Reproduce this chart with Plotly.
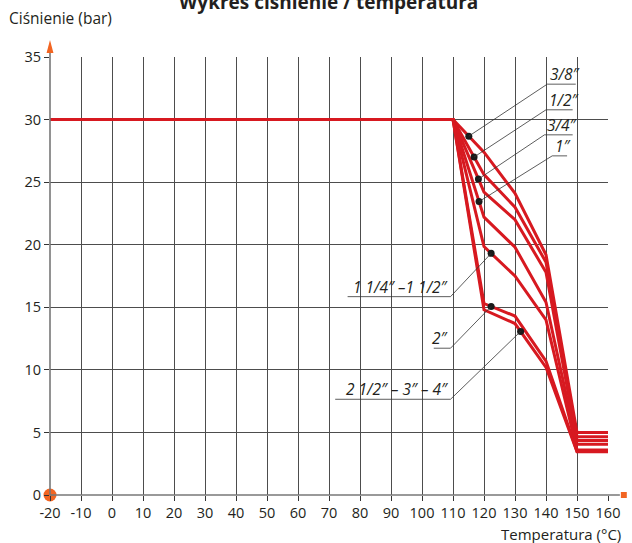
import plotly.graph_objects as go
import numpy as np

# ---------------- data ----------------
temps = [-20, 110, 120, 130, 140, 150, 160]

p_3_8 = [30, 30, 27.4, 24.1, 19.2, 5.0, 5.0]
p_1_2 = [30, 30, 25.6, 23.0, 18.6, 4.65, 4.65]
p_3_4 = [30, 30, 24.2, 22.0, 17.8, 4.35, 4.35]
p_1 = [30, 30, 22.2, 19.8, 15.4, 4.05, 4.05]
p_1_14_1_12 = [30, 30, 19.85, 17.5, 14.0, 3.6, 3.6]
p_2 = [30, 30, 15.3, 14.3, 10.7, 3.5, 3.5]
p_212_3_4 = [30, 30, 14.8, 13.7, 10.2, 3.45, 3.45]

size_labels = ["3/8″", "1/2″", "3/4″", "1″", "1 1/4″ –1 1/2″", "2″", "2 1/2″ – 3″ – 4″"]
dot_temps = [115.1, 116.8, 118.2, 118.4, 122.3, 122.3, 131.8]

x_tick_vals = [-20, -10, 0, 10, 20, 30, 40, 50, 60, 70, 80, 90, 100, 110, 120, 130, 140, 150, 160]
x_tick_labels = ["-20", "-10", "0", "10", "20", "30", "40", "50", "60", "70", "80", "90",
                 "100", "110", "120", "130", "140", "150", "160"]
y_tick_vals = [0, 5, 10, 15, 20, 25, 30, 35]
y_tick_labels = ["0", "5", "10", "15", "20", "25", "30", "35"]

title_text = "Wykres ciśnienie / temperatura"
y_title = "Ciśnienie (bar)"
x_title = "Temperatura (°C)"

series = [p_3_8, p_1_2, p_3_4, p_1, p_1_14_1_12, p_2, p_212_3_4]

# ---------------- layout constants ----------------
W, H = 632, 543
ML, MR, MT, MB = 50, 18, 57, 48
PW, PH = W - ML - MR, H - MT - MB
FONT = "Open Sans"
RED = "#d71920"
ORANGE = "#f26522"
INK = "#231f20"
GRID = "#4d4d4d"

# label placement: underline x0, x1, y (data units), side where leader attaches
label_layout = [
    (140.4, 149.6, 32.83, "left"),
    (140.0, 148.6, 30.78, "left"),
    (139.5, 148.6, 28.78, "left"),
    (142.0, 146.8, 27.1, "left"),
    (76.0, 109.2, 15.85, "right"),
    (103.8, 109.2, 11.73, "right"),
    (72.0, 109.2, 7.65, "right"),
]

fig = go.Figure()

for vals, name in zip(series, size_labels):
    fig.add_trace(go.Scatter(x=temps, y=vals, mode="lines", name=name,
                             line=dict(color=RED, width=3), showlegend=False,
                             hoverinfo="skip"))

shapes = []
annotations = []
dot_x, dot_y = [], []
for vals, name, t, lay in zip(series, size_labels, dot_temps, label_layout):
    p = float(np.interp(t, temps, vals))
    dot_x.append(t)
    dot_y.append(p)
    x0, x1, yl, side = lay
    attach = x0 if side == "left" else x1
    shapes.append(dict(type="line", xref="x", yref="y", x0=t, y0=p, x1=attach, y1=yl,
                       line=dict(color="#333333", width=0.8)))
    shapes.append(dict(type="line", xref="x", yref="y", x0=x0, y0=yl, x1=x1, y1=yl,
                       line=dict(color="#333333", width=0.8)))
    annotations.append(dict(x=(x0 + 0.3) if side == "left" else x1 + 0.2, y=yl,
                            xref="x", yref="y",
                            xanchor="left" if side == "left" else "right",
                            yanchor="bottom", yshift=-3,
                            text="<i>" + name + "</i>", showarrow=False,
                            font=dict(family=FONT, size=15.5, color=INK)))

fig.add_trace(go.Scatter(x=dot_x, y=dot_y, mode="markers",
                         marker=dict(color="#1a1a1a", size=7), showlegend=False,
                         hoverinfo="skip"))

# origin dot
fig.add_trace(go.Scatter(x=[x_tick_vals[0]], y=[y_tick_vals[0]], mode="markers",
                         marker=dict(color=ORANGE, size=13), cliponaxis=False,
                         showlegend=False, hoverinfo="skip"))

def px_x(px):
    return (px - ML) / PW

def px_y(py):
    return (H - MB - py) / PH

# y axis line with arrow
shapes.append(dict(type="line", xref="paper", yref="paper", x0=0, x1=0,
                   y0=0, y1=px_y(50), line=dict(color="#777777", width=1.6), layer="above"))
shapes.append(dict(type="path", xref="paper", yref="paper",
                   path=f"M {px_x(46.5)} {px_y(53)} L {px_x(53.5)} {px_y(53)} L {px_x(50)} {px_y(40)} Z",
                   fillcolor=ORANGE, line=dict(width=0)))
# x axis line with end marker
shapes.append(dict(type="line", xref="paper", yref="paper", x0=0, x1=px_x(626),
                   y0=0, y1=0, line=dict(color="#777777", width=1.6), layer="above"))
shapes.append(dict(type="rect", xref="paper", yref="paper",
                   x0=px_x(627), x1=px_x(633), y0=px_y(498), y1=px_y(492),
                   fillcolor=ORANGE, line=dict(width=0)))

annotations.append(dict(x=px_x(7), y=px_y(18), xref="paper", yref="paper",
                        xanchor="left", yanchor="middle", text=y_title, showarrow=False,
                        font=dict(family=FONT, size=15.5, color=INK)))
annotations.append(dict(x=px_x(629), y=px_y(534), xref="paper", yref="paper",
                        xanchor="right", yanchor="middle", text=x_title, showarrow=False,
                        font=dict(family=FONT, size=15, color=INK)))
annotations.append(dict(x=px_x(331), y=px_y(2), xref="paper", yref="paper",
                        xanchor="center", yanchor="middle", text="<b>" + title_text + "</b>",
                        showarrow=False, font=dict(family=FONT, size=19, color=INK)))

fig.update_layout(
    width=W, height=H,
    margin=dict(l=ML, r=MR, t=MT, b=MB),
    paper_bgcolor="white", plot_bgcolor="white",
    shapes=shapes, annotations=annotations,
    font=dict(family=FONT, size=14, color=INK),
)
fig.update_xaxes(range=[-20, 160], tickvals=x_tick_vals, ticktext=x_tick_labels,
                 showgrid=True, gridcolor=GRID, gridwidth=0.8, zeroline=False,
                 showline=False, ticks="outside", ticklen=5, tickcolor="#333333",
                 tickfont=dict(family=FONT, size=14.5, color=INK))
fig.update_yaxes(range=[0, 35], tickvals=y_tick_vals, ticktext=y_tick_labels,
                 showgrid=True, gridcolor=GRID, gridwidth=0.8, zeroline=False,
                 showline=False, ticks="outside", ticklen=5, tickcolor="#333333",
                 tickfont=dict(family=FONT, size=14.5, color=INK))

fig.write_html("out.html", config={"displayModeBar": False},
               post_script="document.body.style.margin='0px';")
